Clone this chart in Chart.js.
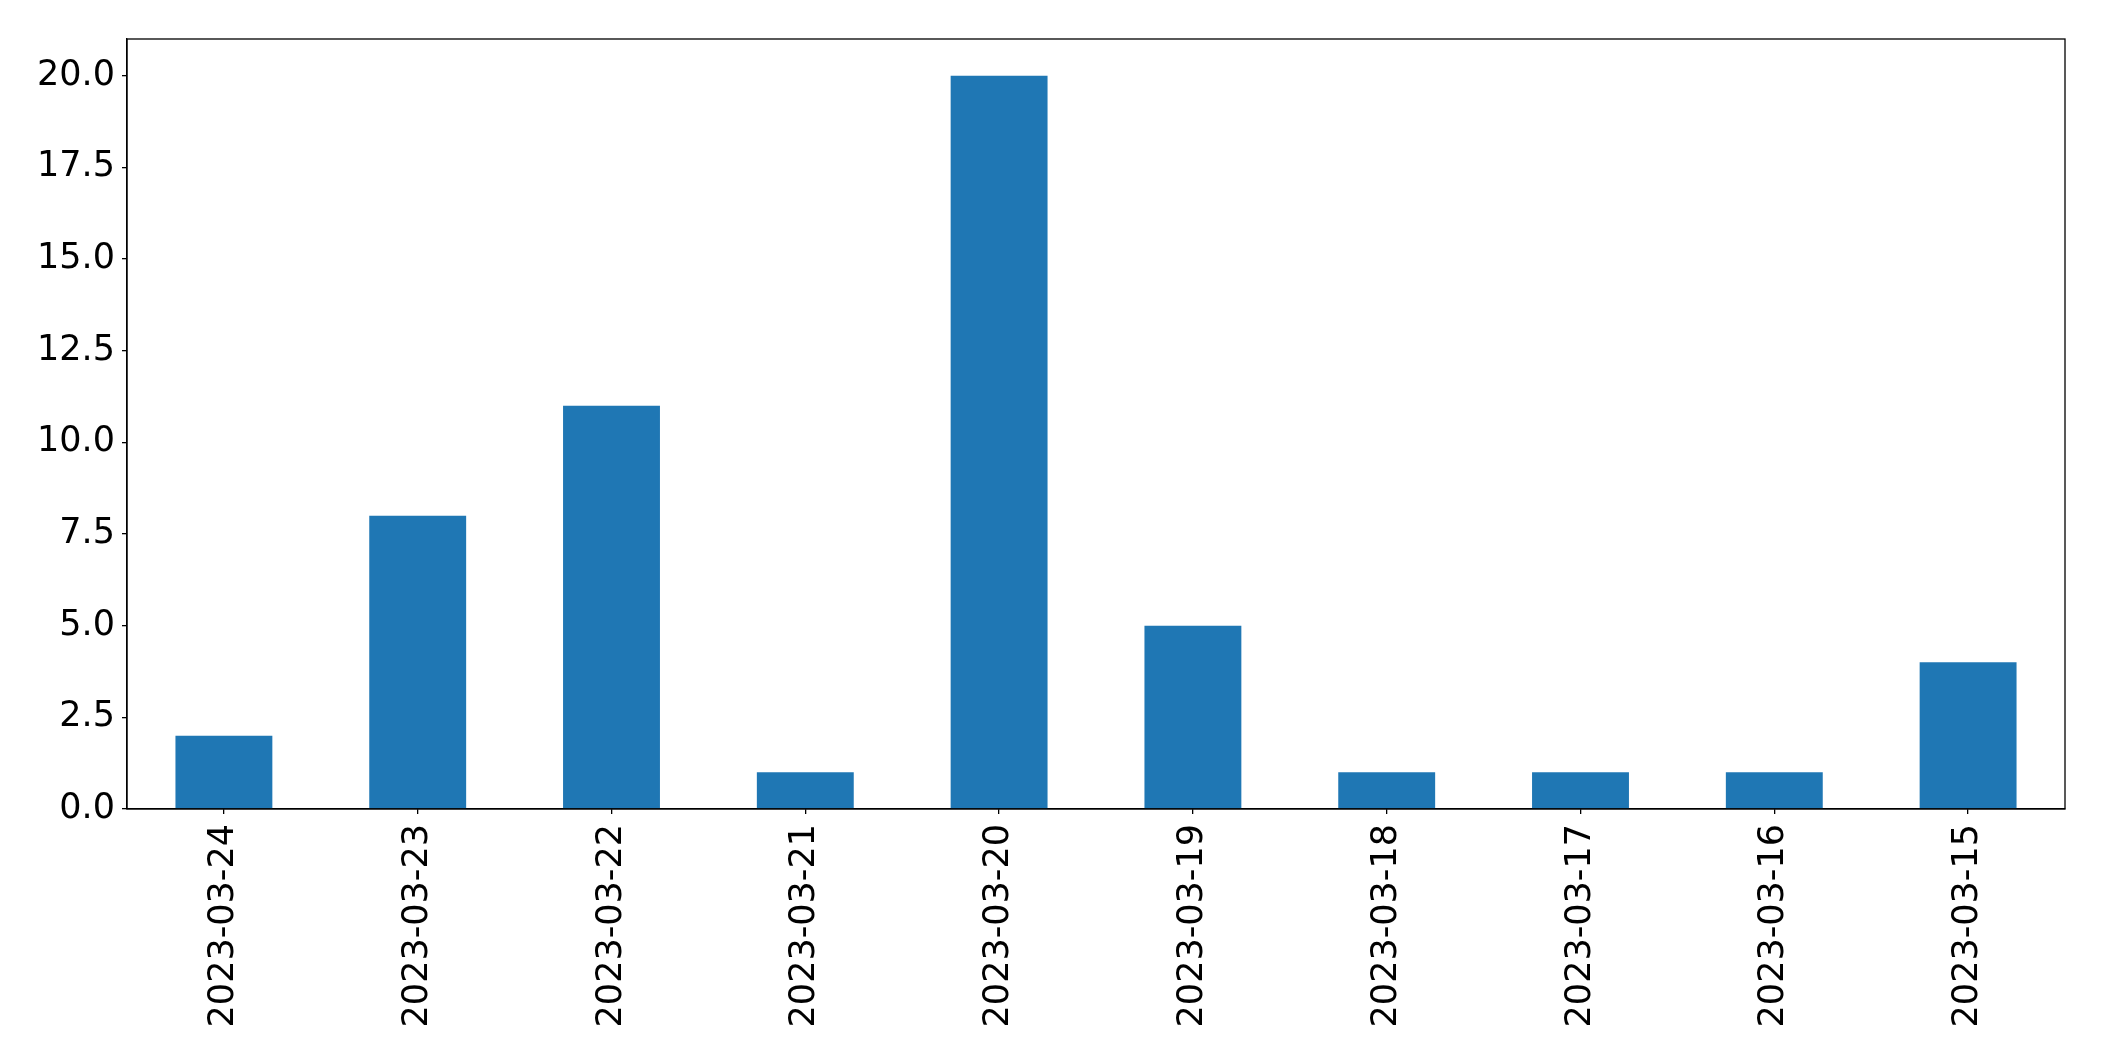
<!DOCTYPE html>
<html>
<head>
<meta charset="utf-8">
<script src="https://cdn.jsdelivr.net/npm/chart.js@4"></script>
<style>
  html, body { margin: 0; padding: 0; background: #fff; }
  #wrap { width: 2104px; height: 1061px; }
</style>
</head>
<body>
<div id="wrap"><canvas id="bars_canvas"></canvas></div>
<script>
// data
const dates = ["2023-03-24", "2023-03-23", "2023-03-22", "2023-03-21", "2023-03-20",
               "2023-03-19", "2023-03-18", "2023-03-17", "2023-03-16", "2023-03-15"];
const counts = [2, 8, 11, 1, 20, 5, 1, 1, 1, 4];
const yTicks = [0, 2.5, 5, 7.5, 10, 12.5, 15, 17.5, 20];

// box round the plot area
const frame = {
  id: 'frame',
  afterDraw(chart) {
    const a = chart.chartArea;
    const c = chart.ctx;
    c.save();
    c.strokeStyle = '#000';
    c.lineWidth = 1.3;
    c.strokeRect(a.left, a.top, a.right - a.left, a.bottom - a.top);
    c.restore();
  }
};

const bars_ctx = document.getElementById('bars_canvas').getContext('2d');
const bars_chart = new Chart(bars_ctx, {
  type: 'bar',
  data: {
    labels: dates,
    datasets: [{
      data: counts,
      backgroundColor: '#1f77b4',
      borderWidth: 0,
      barPercentage: 0.5,
      categoryPercentage: 1.0,
    }],
  },
  options: {
    responsive: true,
    maintainAspectRatio: false,
    animation: false,
    layout: { padding: { left: 0, top: 39, right: 39, bottom: 0 } },
    plugins: { legend: { display: false }, tooltip: { enabled: false } },
    scales: {
      x: {
        grid: { offset: false, drawOnChartArea: false, drawTicks: true, tickLength: 5, color: '#000', lineWidth: 1.3 },
        border: { display: true, color: '#000', width: 1.3 },
        ticks: {
          color: '#000',
          font: { family: 'DejaVu Sans', size: 35 },
          minRotation: 90,
          maxRotation: 90,
          autoSkip: false,
          padding: 10,
        },
        afterFit: function (scale) { scale.height = 252; },
      },
      y: {
        min: 0,
        max: 21,
        grid: { drawOnChartArea: false, drawTicks: true, tickLength: 5, color: '#000', lineWidth: 1.3 },
        border: { display: true, color: '#000', width: 1.3 },
        ticks: {
          color: '#000',
          font: { family: 'DejaVu Sans', size: 35 },
          padding: 7,
          callback: function (v) { return Number(v).toFixed(1); },
        },
        afterBuildTicks: function (axis) { axis.ticks = yTicks.map(v => ({ value: v })); },
        afterFit: function (scale) { scale.width = 127; },
      },
    },
  },
  plugins: [frame],
});
</script>
</body>
</html>
